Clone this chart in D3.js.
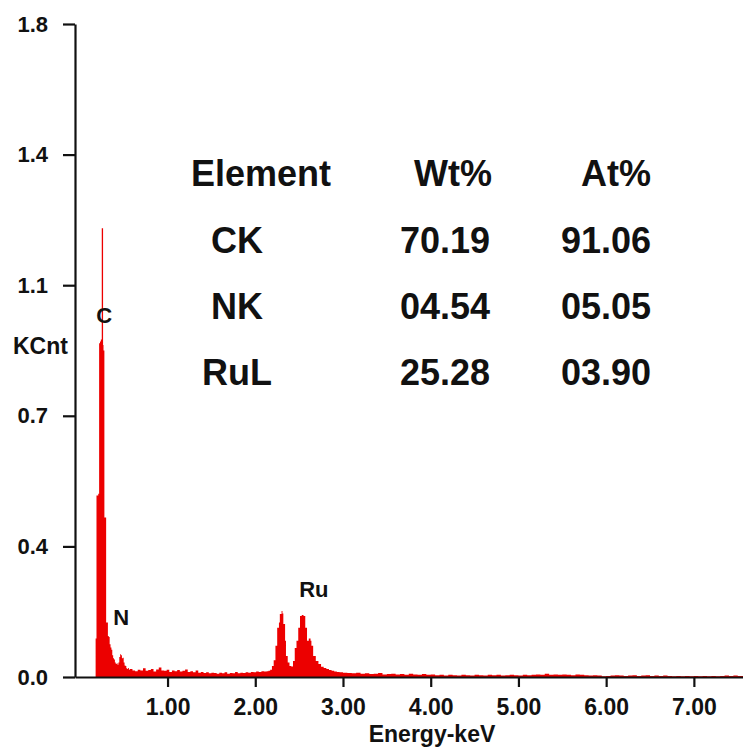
<!DOCTYPE html>
<html>
<head>
<meta charset="utf-8">
<script src="https://cdn.jsdelivr.net/npm/d3@7/dist/d3.min.js"></script>
<style>
  html, body { margin: 0; padding: 0; background: #fff; }
  svg { display: block; font-family: "Liberation Sans", Arial, sans-serif; font-weight: bold; }
</style>
</head>
<body>
<div id="chart"></div>
<script>
// EDS spectrum: channel energy (keV) and intensity (KCnt)
const energyKeV = [
  0.17, 0.18, 0.19, 0.20, 0.21, 0.22, 0.23, 0.24, 0.25, 0.265,
  0.27, 0.28, 0.29, 0.30, 0.31, 0.32, 0.33, 0.34, 0.35, 0.36,
  0.37, 0.38, 0.39, 0.40, 0.41, 0.42, 0.43, 0.44, 0.45, 0.46,
  0.47, 0.48, 0.49, 0.50, 0.51, 0.52, 0.53, 0.54, 0.55, 0.56,
  0.57, 0.60, 0.63, 0.66, 0.69, 0.72, 0.75, 0.78, 0.81, 0.84,
  0.87, 0.90, 0.93, 0.96, 0.99, 1.02, 1.05, 1.08, 1.11, 1.14,
  1.17, 1.20, 1.23, 1.26, 1.29, 1.32, 1.35, 1.38, 1.41, 1.44,
  1.47, 1.50, 1.53, 1.56, 1.59, 1.62, 1.65, 1.68, 1.71, 1.74,
  1.77, 1.80, 1.83, 1.86, 1.89, 1.92, 1.95, 1.98, 2.01, 2.04,
  2.07, 2.10, 2.13, 2.15, 2.17, 2.19, 2.21, 2.23, 2.25, 2.27,
  2.28, 2.30, 2.31, 2.32, 2.34, 2.35, 2.37, 2.39, 2.41, 2.43,
  2.45, 2.47, 2.49, 2.51, 2.53, 2.55, 2.57, 2.59, 2.61, 2.63,
  2.64, 2.66, 2.69, 2.72, 2.75, 2.78, 2.81, 2.84, 2.87, 2.90,
  2.93, 2.96, 3.00, 3.05, 3.10, 3.15, 3.20, 3.25, 3.30, 3.35,
  3.40, 3.45, 3.50, 3.55, 3.60, 3.65, 3.70, 3.75, 3.80, 3.85,
  3.90, 3.95, 4.00, 4.05, 4.10, 4.15, 4.20, 4.25, 4.30, 4.35,
  4.40, 4.45, 4.50, 4.55, 4.60, 4.65, 4.70, 4.75, 4.80, 4.85,
  4.90, 4.95, 5.00, 5.05, 5.10, 5.15, 5.20, 5.25, 5.30, 5.35,
  5.40, 5.45, 5.50, 5.55, 5.60, 5.65, 5.70, 5.75, 5.80, 5.85,
  5.90, 5.95, 6.00, 6.05, 6.10, 6.15, 6.20, 6.25, 6.30, 6.35,
  6.40, 6.45, 6.50, 6.55, 6.60, 6.65, 6.70, 6.75, 6.80, 6.85,
  6.90, 6.95, 7.00, 7.05, 7.10, 7.15, 7.20, 7.25, 7.30, 7.35,
  7.40, 7.45, 7.50, 7.56
];

const kcnt = [
  0.000, 0.106, 0.500, 0.500, 0.505, 0.920, 0.925, 0.930, 1.237, 0.915,
  0.900, 0.440, 0.440, 0.150, 0.150, 0.113, 0.110, 0.090, 0.081, 0.075,
  0.060, 0.052, 0.048, 0.040, 0.036, 0.038, 0.034, 0.040, 0.055, 0.063,
  0.060, 0.052, 0.053, 0.040, 0.032, 0.030, 0.024, 0.022, 0.025, 0.020,
  0.022, 0.018, 0.016, 0.020, 0.018, 0.024, 0.017, 0.019, 0.022, 0.015,
  0.021, 0.026, 0.018, 0.017, 0.020, 0.014, 0.018, 0.016, 0.019, 0.015,
  0.017, 0.021, 0.014, 0.016, 0.013, 0.018, 0.012, 0.014, 0.011, 0.013,
  0.010, 0.012, 0.011, 0.009, 0.012, 0.010, 0.013, 0.009, 0.011, 0.010,
  0.014, 0.010, 0.012, 0.011, 0.013, 0.012, 0.014, 0.013, 0.015, 0.014,
  0.016, 0.015, 0.016, 0.017, 0.020, 0.030, 0.046, 0.086, 0.136, 0.150,
  0.174, 0.182, 0.175, 0.146, 0.100, 0.058, 0.040, 0.030, 0.029, 0.044,
  0.080, 0.100, 0.136, 0.168, 0.171, 0.168, 0.136, 0.100, 0.106, 0.100,
  0.086, 0.058, 0.044, 0.036, 0.028, 0.025, 0.022, 0.019, 0.017, 0.015,
  0.014, 0.013, 0.012, 0.011, 0.010, 0.012, 0.009, 0.010, 0.008, 0.009,
  0.011, 0.007, 0.008, 0.009, 0.007, 0.008, 0.006, 0.009, 0.007, 0.006,
  0.008, 0.006, 0.007, 0.005, 0.006, 0.004, 0.006, 0.005, 0.004, 0.006,
  0.005, 0.004, 0.006, 0.005, 0.004, 0.006, 0.005, 0.006, 0.004, 0.005,
  0.006, 0.005, 0.004, 0.006, 0.005, 0.006, 0.007, 0.006, 0.009, 0.006,
  0.007, 0.006, 0.007, 0.006, 0.005, 0.007, 0.006, 0.005, 0.004, 0.005,
  0.004, 0.002, 0.003, 0.004, 0.005, 0.004, 0.003, 0.004, 0.005, 0.003,
  0.004, 0.005, 0.003, 0.004, 0.003, 0.004, 0.003, 0.002, 0.003, 0.002,
  0.003, 0.002, 0.003, 0.002, 0.003, 0.002, 0.003, 0.002, 0.003, 0.004,
  0.003, 0.004, 0.003, 0.004
];

const xTicks = [1, 2, 3, 4, 5, 6, 7];
const yTicks = [0, 0.36, 0.72, 1.08, 1.44, 1.8];

// peak labels at their line energies
const peakNames = ['C', 'N', 'Ru'];
const peakEnergies = [0.277, 0.392, 2.558];

// quantification table
const tableHeader = ['Element', 'Wt%', 'At%'];
const elements = ['CK', 'NK', 'RuL'];
const wtPercent = ['70.19', '04.54', '25.28'];
const atPercent = ['91.06', '05.05', '03.90'];

const width = 743;
const height = 749;
const red = '#ec0000';

const svg = d3.select('#chart')
  .append('svg')
  .attr('width', width)
  .attr('height', height);

const x = d3.scaleLinear().domain([-0.055, 7.56]).range([75, 743]);
const y = d3.scaleLinear().domain([0, 1.8]).range([677, 24]);

const spectrum = energyKeV.map((e, i) => ({ e, c: kcnt[i] }));

const area = d3.area()
  .curve(d3.curveStepAfter)
  .x(d => x(d.e))
  .y0(y(0))
  .y1(d => y(d.c));

svg.append('path')
  .datum(spectrum)
  .attr('d', area)
  .attr('fill', red);

// axes
const xAxis = svg.append('g')
  .attr('transform', `translate(0,${y(0)})`)
  .call(d3.axisBottom(x).tickValues(xTicks).tickFormat(d3.format('.2f')).tickSize(10).tickSizeOuter(0).tickPadding(12));

const yAxis = svg.append('g')
  .attr('transform', `translate(${x.range()[0]},0)`)
  .call(d3.axisLeft(y).tickValues(yTicks).tickFormat(d3.format('.1f')).tickSize(12).tickSizeOuter(0).tickPadding(15));

svg.selectAll('.domain, .tick line')
  .attr('stroke', '#111')
  .attr('stroke-width', 2.2);

xAxis.selectAll('text')
  .attr('font-family', '"Liberation Sans", Arial, sans-serif')
  .attr('font-size', 23)
  .attr('fill', '#111');

yAxis.selectAll('text')
  .attr('font-family', '"Liberation Sans", Arial, sans-serif')
  .attr('font-size', 22)
  .attr('fill', '#111');

svg.append('text')
  .attr('x', 432)
  .attr('y', 742)
  .attr('text-anchor', 'middle')
  .attr('font-size', 23)
  .attr('fill', '#111')
  .text('Energy-keV');

svg.append('text')
  .attr('x', 13)
  .attr('y', 354)
  .attr('font-size', 23)
  .attr('fill', '#111')
  .text('KCnt');

// peak labels
const peakStyle = [
  { dx: 0, y: 323, anchor: 'middle' },
  { dx: -1, y: 625, anchor: 'start' },
  { dx: -5, y: 597, anchor: 'start' }
];
peakNames.forEach((name, i) => {
  svg.append('text')
    .attr('x', x(peakEnergies[i]) + peakStyle[i].dx)
    .attr('y', peakStyle[i].y)
    .attr('text-anchor', peakStyle[i].anchor)
    .attr('font-size', 22)
    .attr('fill', '#111')
    .text(name);
});

// table of composition
const rowY = [186, 253, 319, 385];
const table = svg.append('g')
  .attr('font-size', 36)
  .attr('fill', '#111');

table.append('text').attr('x', 191).attr('y', rowY[0]).text(tableHeader[0]);
table.append('text').attr('x', 492).attr('y', rowY[0]).attr('text-anchor', 'end').text(tableHeader[1]);
table.append('text').attr('x', 651).attr('y', rowY[0]).attr('text-anchor', 'end').text(tableHeader[2]);

elements.forEach((el, i) => {
  table.append('text').attr('x', 237).attr('y', rowY[i + 1]).attr('text-anchor', 'middle').text(el);
  table.append('text').attr('x', 490).attr('y', rowY[i + 1]).attr('text-anchor', 'end').text(wtPercent[i]);
  table.append('text').attr('x', 651).attr('y', rowY[i + 1]).attr('text-anchor', 'end').text(atPercent[i]);
});
</script>
</body>
</html>
